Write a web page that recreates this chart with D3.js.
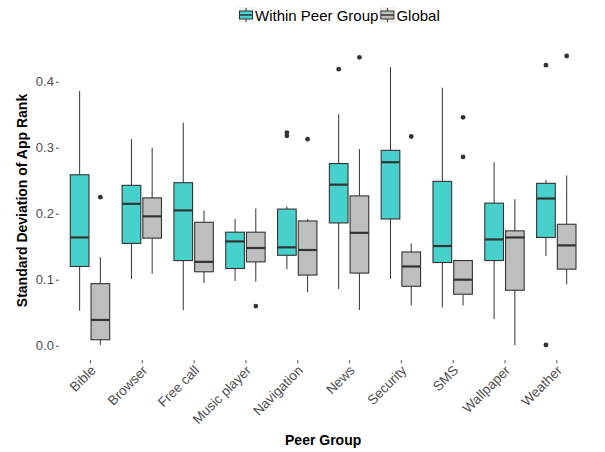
<!DOCTYPE html>
<html><head><meta charset="utf-8">
<script src="https://cdn.jsdelivr.net/npm/d3@7"></script>
<style>body{margin:0;background:#fff}svg{display:block}text{font-family:"Liberation Sans",Arial,sans-serif}</style>
</head><body><svg id="c" width="605" height="452"></svg>
<script>
const categories = ["Bible","Browser","Free call","Music player","Navigation","News","Security","SMS","Wallpaper","Weather"];
const groups = ["Within Peer Group","Global"];
// [lower whisker, q1, median, q3, upper whisker]
const withinStats = [
  [0.053,0.120,0.164,0.259,0.386],
  [0.101,0.155,0.215,0.243,0.313],
  [0.054,0.129,0.205,0.247,0.338],
  [0.098,0.117,0.158,0.172,0.192],
  [0.116,0.137,0.149,0.207,0.211],
  [0.086,0.186,0.244,0.276,0.351],
  [0.101,0.192,0.278,0.296,0.422],
  [0.058,0.126,0.151,0.249,0.391],
  [0.040,0.129,0.161,0.216,0.278],
  [0.136,0.164,0.223,0.246,0.251]
];
const globalStats = [
  [0.001,0.009,0.039,0.094,0.134],
  [0.109,0.163,0.196,0.224,0.300],
  [0.095,0.112,0.127,0.187,0.205],
  [0.097,0.127,0.148,0.172,0.208],
  [0.081,0.107,0.145,0.189,0.192],
  [0.054,0.110,0.171,0.227,0.298],
  [0.061,0.090,0.120,0.142,0.155],
  [0.061,0.078,0.100,0.129,0.130],
  [0.001,0.084,0.164,0.174,0.222],
  [0.093,0.116,0.152,0.184,0.258]
];
const withinOutliers = [[],[],[],[],[0.323,0.318],[0.419],[],[],[],[0.425,0.001]];
const globalOutliers = [[0.225],[],[],[0.060],[0.313],[0.437],[0.317],[0.346,0.286],[],[0.439]];
const yTicks = [0,0.1,0.2,0.3,0.4];
const colors = ["#48D1CC","#BEBEBE"];

const svg = d3.select("#c");
const L = 58.9, R = 587.4, T = 40.8, B = 360.2;
const x = d3.scalePoint().domain(categories).range([L,R]).padding(0.6);
const y = d3.scaleLinear().domain([-0.022,0.462]).range([B,T]);
const step = x.step();
const off = 0.2*step, bw = 0.36*step;

// axes
const ya = svg.append("g").attr("transform",`translate(${L},0)`)
  .call(d3.axisLeft(y).tickValues(yTicks).tickFormat(d3.format(".1f")).tickSize(3).tickPadding(2));
ya.select(".domain").remove();
ya.selectAll("line").attr("stroke","#4d4d4d");
ya.selectAll("text").attr("fill","#4d4d4d").style("font-size","13px");

const xa = svg.append("g").attr("transform",`translate(0,${B})`)
  .call(d3.axisBottom(x).tickSize(3).tickPadding(2));
xa.select(".domain").remove();
xa.selectAll("line").attr("stroke","#4d4d4d");
xa.selectAll("text").attr("fill","#4d4d4d").style("font-size","13.5px")
  .attr("text-anchor","end").attr("dy",null).attr("y",0)
  .attr("transform","translate(6,11) rotate(-45)");

const statsArr = [withinStats, globalStats];
const outArr = [withinOutliers, globalOutliers];
groups.forEach((g,gi)=>{
  const gg = svg.append("g");
  categories.forEach((c,ci)=>{
    const s = statsArr[gi][ci];
    const cx = x(c) + (gi===0?-off:off);
    gg.append("line").attr("x1",cx).attr("x2",cx).attr("y1",y(s[4])).attr("y2",y(s[3])).attr("stroke","#333").attr("stroke-width",1);
    gg.append("line").attr("x1",cx).attr("x2",cx).attr("y1",y(s[1])).attr("y2",y(s[0])).attr("stroke","#333").attr("stroke-width",1);
    gg.append("rect").attr("x",cx-bw/2).attr("width",bw).attr("y",y(s[3])).attr("height",y(s[1])-y(s[3]))
      .attr("fill",colors[gi]).attr("stroke","#333").attr("stroke-width",1.1);
    gg.append("line").attr("x1",cx-bw/2).attr("x2",cx+bw/2).attr("y1",y(s[2])).attr("y2",y(s[2])).attr("stroke","#333").attr("stroke-width",2.2);
    outArr[gi][ci].forEach(v=>{
      gg.append("circle").attr("cx",cx).attr("cy",y(v)).attr("r",2.4).attr("fill","#333");
    });
  });
});

// titles
svg.append("text").attr("x",(L+R)/2).attr("y",445).attr("text-anchor","middle")
  .style("font-size","14px").style("font-weight","bold").text("Peer Group");
svg.append("text").attr("transform",`translate(27,${(T+B)/2}) rotate(-90)`).attr("text-anchor","middle")
  .style("font-size","14px").style("font-weight","bold").text("Standard Deviation of App Rank");

// legend
const leg = svg.append("g");
let lx = 238;
groups.forEach((g,gi)=>{
  const k = leg.append("g").attr("transform",`translate(${lx},7)`);
  k.append("rect").attr("width",16).attr("height",16).attr("fill","#f2f2f2");
  k.append("line").attr("x1",8).attr("x2",8).attr("y1",1).attr("y2",15).attr("stroke","#333");
  k.append("rect").attr("x",1.5).attr("y",4).attr("width",13).attr("height",8).attr("fill",colors[gi]).attr("stroke","#333").attr("stroke-width",1);
  k.append("line").attr("x1",1.5).attr("x2",14.5).attr("y1",8).attr("y2",8).attr("stroke","#333").attr("stroke-width",1.5);
  const t = leg.append("text").attr("x",lx+17).attr("y",20.5).style("font-size","15px").attr("fill","#000").text(g);
  lx += 17 + t.node().getComputedTextLength() + 1;
});
</script></body></html>
